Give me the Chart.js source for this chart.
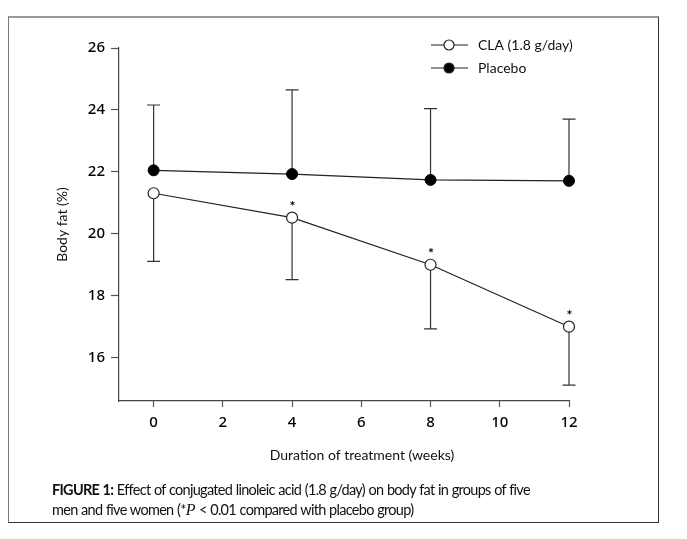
<!DOCTYPE html>
<html>
<head>
<meta charset="utf-8">
<script src="https://cdn.jsdelivr.net/npm/chart.js@4"></script>
<style>
  html, body { margin:0; padding:0; background:#fff; }
  body { width:687px; height:539px; position:relative; overflow:hidden; }
  #frame { position:absolute; left:8px; top:16px; width:651px; height:507px;
    border-top:2px solid #999; border-left:1.5px solid #777; border-right:1.5px solid #333; border-bottom:1.5px solid #333; box-sizing:border-box; }
  #wrap { position:absolute; left:0; top:0; width:687px; height:539px; }
  #caption { position:absolute; left:52px; top:480px; width:600px; font-family:Lato, "Noto Sans", sans-serif; font-size:14.5px; letter-spacing:-0.7px; word-spacing:0.5px; line-height:20px; color:#111; white-space:nowrap; }
  #caption b { font-weight:700; }
  #caption i { font-family:"Liberation Serif", serif; font-size:16px; letter-spacing:0; }
</style>
</head>
<body>
<div id="frame"></div>
<div id="wrap"><canvas id="c" width="687" height="539"></canvas></div>
<div id="caption"><b>FIGURE 1:</b> Effect of conjugated linoleic acid (1.8 g/day) on body fat in groups of five<br>men and five women (*<i>P</i> &lt; 0.01 compared with placebo group)</div>
<script>
const weeks = [0, 4, 8, 12];
const claValues = [21.31, 20.52, 19.0, 17.0];
const claErrorLow = [19.11, 18.52, 16.93, 15.11];
const placeboValues = [22.05, 21.93, 21.74, 21.71];
const placeboErrorHigh = [24.16, 24.65, 24.04, 23.7];
const significant = [false, true, true, true];
const xTicks = [0, 2, 4, 6, 8, 10, 12];
const yTicks = [16, 18, 20, 22, 24, 26];
const seriesNames = ['CLA (1.8 g/day)', 'Placebo'];
const xTitle = 'Duration of treatment (weeks)';
const yTitle = 'Body fat (%)';

const FONT = 'Lato, "Noto Sans", sans-serif';
const TICKFONT = '"Noto Sans", Lato, sans-serif';
const INK = '#222';

const errorPlugin = {
  id: 'errbars',
  beforeDatasetsDraw(chart) {
    const ctx = chart.ctx, xs = chart.scales.x, ys = chart.scales.y;
    ctx.save();
    ctx.strokeStyle = '#333';
    ctx.lineWidth = 1.2;
    const cap = 6.5;
    const draw = (vals, ends) => {
      weeks.forEach((w, i) => {
        const x = xs.getPixelForValue(w);
        const y1 = ys.getPixelForValue(vals[i]);
        const y2 = ys.getPixelForValue(ends[i]);
        ctx.beginPath();
        ctx.moveTo(x, y1); ctx.lineTo(x, y2);
        ctx.moveTo(x - cap, y2); ctx.lineTo(x + cap, y2);
        ctx.stroke();
      });
    };
    draw(placeboValues, placeboErrorHigh);
    draw(claValues, claErrorLow);
    ctx.restore();
  },
  afterDatasetsDraw(chart) {
    const ctx = chart.ctx, xs = chart.scales.x, ys = chart.scales.y;
    ctx.save();
    ctx.fillStyle = '#000';
    ctx.font = 'bold 14px ' + FONT;
    ctx.textAlign = 'center';
    ctx.textBaseline = 'middle';
    weeks.forEach((w, i) => {
      if (!significant[i]) return;
      const x = xs.getPixelForValue(w);
      const y = ys.getPixelForValue(claValues[i]);
      ctx.fillText('*', x + 0.5, y - 11);
    });
    // x title
    ctx.fillStyle = '#111';
    ctx.font = '14px ' + FONT;
    ctx.fillText(xTitle, 362, 455);
    // legend
    const items = [
      {name: seriesNames[0], fill: '#fff', y: 45},
      {name: seriesNames[1], fill: '#000', y: 68}
    ];
    items.forEach(it => {
      ctx.strokeStyle = INK; ctx.lineWidth = 1.2;
      ctx.beginPath(); ctx.moveTo(431, it.y); ctx.lineTo(468, it.y); ctx.stroke();
      ctx.beginPath(); ctx.arc(449, it.y, 5, 0, Math.PI * 2);
      ctx.fillStyle = it.fill; ctx.fill(); ctx.stroke();
      ctx.fillStyle = '#111';
      ctx.font = '14px ' + FONT;
      ctx.textAlign = 'left';
      ctx.fillText(it.name, 478, it.y);
    });
    ctx.restore();
  }
};

new Chart(document.getElementById('c'), {
  type: 'scatter',
  data: {
    datasets: [
      {
        label: seriesNames[1],
        data: weeks.map((w, i) => ({x: w, y: placeboValues[i]})),
        showLine: true, borderColor: INK, borderWidth: 1.2, clip: false,
        pointRadius: 5.5, pointBackgroundColor: '#000', pointBorderColor: '#000', pointBorderWidth: 1
      },
      {
        label: seriesNames[0],
        data: weeks.map((w, i) => ({x: w, y: claValues[i]})),
        showLine: true, borderColor: INK, borderWidth: 1.2, clip: false,
        pointRadius: 5.5, pointBackgroundColor: '#fff', pointBorderColor: INK, pointBorderWidth: 1.2
      }
    ]
  },
  options: {
    responsive: false,
    animation: false,
    events: [],
    layout: { padding: { left: 50, top: 48, right: 118, bottom: 72 } },
    plugins: { legend: { display: false }, tooltip: { enabled: false } },
    scales: {
      x: {
        type: 'linear', min: -1, max: 12,
        afterBuildTicks: s => { s.ticks = xTicks.map(v => ({value: v})); },
        afterFit: s => { s.height = 66; },
        grid: { display: true, drawOnChartArea: false, drawTicks: true, tickLength: 6, color: '#555', tickWidth: 1.2 },
        border: { display: true, color: '#444', width: 1.2 },
        ticks: { color: '#000', font: { family: TICKFONT, size: 15, weight: '500' }, padding: 7, maxRotation: 0 },
        title: { display: false, text: xTitle }
      },
      y: {
        type: 'linear', min: 14.6, max: 26,
        afterBuildTicks: s => { s.ticks = yTicks.map(v => ({value: v})); },
        afterFit: s => { s.width = 69; },
        grid: { display: true, drawOnChartArea: false, drawTicks: true, tickLength: 8, color: '#555', tickWidth: 1.2 },
        border: { display: true, color: '#444', width: 1.2 },
        ticks: { color: '#000', font: { family: TICKFONT, size: 15, weight: '500' }, padding: 6 },
        title: { display: true, text: yTitle, color: '#111', font: { family: FONT, size: 14 }, padding: { top: 4, bottom: 4 } }
      }
    }
  },
  plugins: [errorPlugin]
});
</script>
</body>
</html>
